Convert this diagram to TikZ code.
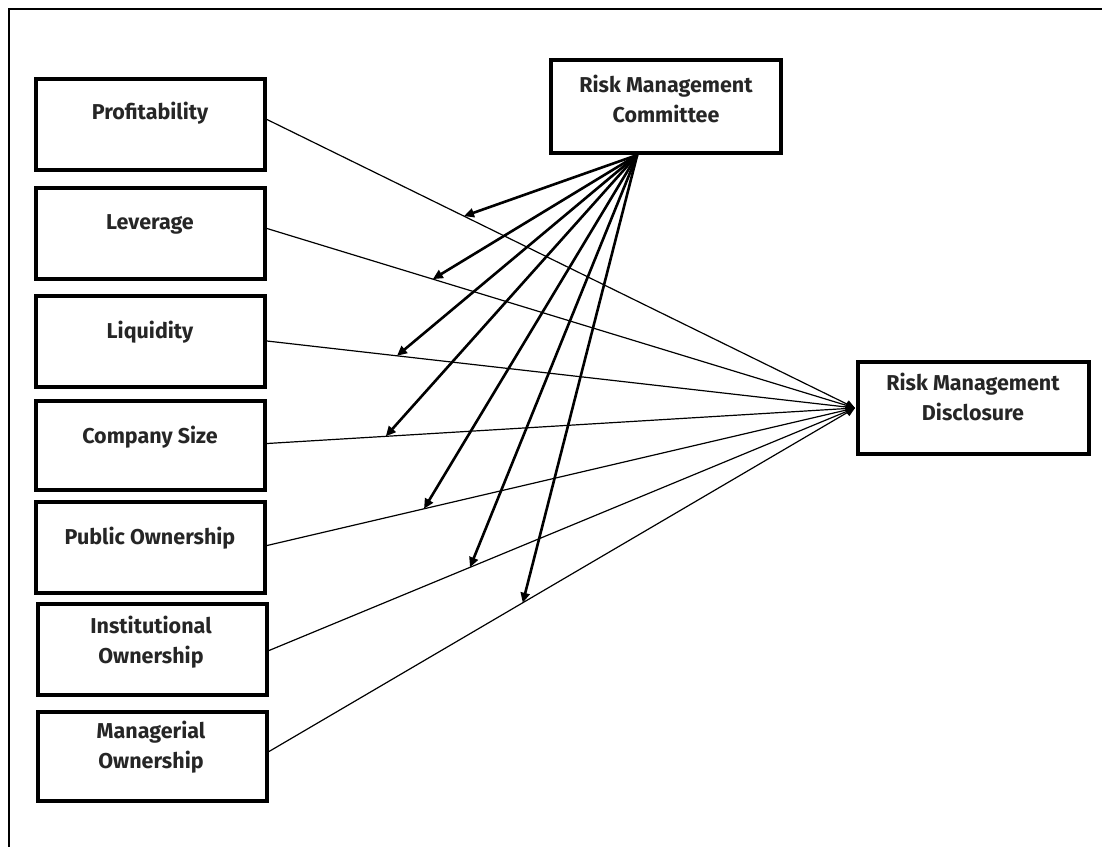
\documentclass[tikz,border=0pt]{standalone}
\usepackage{fontspec}
\setmainfont{Fira Sans}
\usetikzlibrary{calc,arrows.meta}
\tikzset{
  box/.style={draw=black,line width=4pt,minimum width=229pt,minimum height=91pt,inner sep=0pt},
  lbl/.style={font=\bfseries\fontsize{21.5}{30}\selectfont,align=center,inner sep=0pt,text=black!85},
  thinline/.style={line width=1.2pt,-{Triangle[length=9pt,width=8pt]}},
  modline/.style={line width=2.6pt,-{Triangle[length=10pt,width=9pt]}},
  frame/.style={line width=2pt}
}
\begin{document}
\begin{tikzpicture}[x=1pt,y=-1pt]
\useasboundingbox (0,0) rectangle (1102,847);
\coordinate (fa) at (9,9);
\coordinate (fb) at (1102,9);
\coordinate (fc) at (9,847);
\draw[frame] (fb) -- (fa) -- (fc);
% boxes
\node[box] (p) at (150.5,124.5) {};
\node[box] (l) at (150.5,233.5) {};
\node[box] (q) at (150.5,341) {};
\node[box,minimum height=89pt] (s) at (150.5,445.5) {};
\node[box] (o) at (150.5,547.5) {};
\node[box] (i) at (152.5,649.5) {};
\node[box,minimum height=89pt] (m) at (152.5,756.5) {};
\node[box,minimum width=230pt,minimum height=93pt] (c) at (666,106.5) {};
\node[box,minimum width=231pt,minimum height=92pt] (d) at (973.5,408) {};
% labels
\node[lbl] (pt) at (150,113) {Profitability};
\node[lbl] (lt) at (150,224) {Leverage};
\node[lbl] (qt) at (150,332) {Liquidity};
\node[lbl] (st) at (150,437) {Company Size};
\node[lbl] (ot) at (150,538) {Public Ownership};
\node[lbl] (it) at (151,642) {Institutional\\Ownership};
\node[lbl] (mt) at (151,747) {Managerial\\Ownership};
\node[lbl] (ct) at (666,98.5) {Risk Management\\Committee};
\node[lbl] (dt) at (973,397) {Risk Management\\Disclosure};
% start points
\coordinate (ps) at ([yshift=5pt]p.east);
\coordinate (ls) at ([yshift=5pt]l.east);
\coordinate (qs) at (q.east);
\coordinate (ss) at ([yshift=2pt]s.east);
\coordinate (os) at ([yshift=2pt]o.east);
\coordinate (is) at ([yshift=-1pt]i.east);
\coordinate (ms) at ([yshift=5pt]m.east);
\coordinate (dw) at ([xshift=-1pt]d.west);
% direct effects
\foreach \a in {ps,ls,qs,ss,os,is,ms}{
  \draw[thinline] (\a) -- (dw);
}
% moderation points
\coordinate (cs) at ($(c.south west)!0.377!(c.south east)$);
\coordinate (m1) at ($(ps)!0.335!(dw)$);
\coordinate (m2) at ($(ls)!0.282!(dw)$);
\coordinate (m3) at ($(qs)!0.221!(dw)$);
\coordinate (m4) at ($(ss)!0.202!(dw)$);
\coordinate (m5) at ($(os)!0.267!(dw)$);
\coordinate (m6) at ($(is)!0.343!(dw)$);
\coordinate (m7) at ($(ms)!0.433!(dw)$);
\foreach \t in {m1,m2,m3,m4,m5,m6,m7}{
  \draw[modline] (cs) -- (\t);
}
\end{tikzpicture}
\end{document}
